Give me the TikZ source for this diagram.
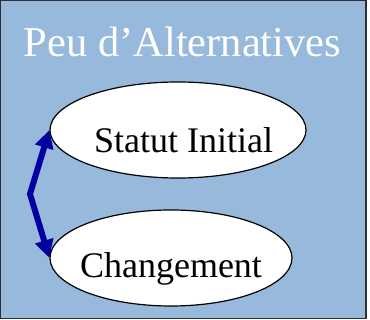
\documentclass[tikz,border=0pt]{standalone}
\usepackage{fontspec}
\setmainfont{Liberation Serif}
\usetikzlibrary{arrows.meta,shapes.geometric}
\definecolor{panelblue}{HTML}{96B9DC}
\definecolor{arrowblue}{HTML}{0000A0}
\definecolor{frame}{HTML}{2A2E38}
\tikzset{
  panel/.style={fill=panelblue,draw=frame,line width=1.2pt},
  oval/.style={ellipse,draw=black,fill=white,line width=1.2pt,inner sep=0pt},
  ovaltext/.style={anchor=base,inner sep=0pt,font=\fontsize{36}{40}\selectfont},
  titletext/.style={anchor=base,inner sep=0pt,text=white,font=\fontsize{42.5}{46}\selectfont},
  link/.style={draw=arrowblue,line width=6pt,line join=miter,
    {Triangle[length=18pt,width=18pt]}-{Triangle[length=18pt,width=18pt]}}
}
\begin{document}
\begin{tikzpicture}[x=1pt,y=-1pt]
  \useasboundingbox (0,0) rectangle (370,320);
  \fill[white] (0,0) rectangle (370,320);
  % background panel
  \path[panel] (0.6,0.6) rectangle (366,318.5);
  % title
  \node[titletext] (title) at (182.5,57) {Peu d’Alternatives};
  % the two states
  \node[oval,minimum width=256pt,minimum height=96pt] (init) at (178,130) {};
  \node[oval,minimum width=242pt,minimum height=96pt] (chg) at (171,258) {};
  \node[ovaltext] (initlbl) at (183.5,153) {Statut Initial};
  \node[ovaltext] (chglbl) at (171,278) {Changement};
  % two-way link on the left
  \coordinate (bend) at (30,194);
  \draw[link] (init.west) -- (bend) -- (chg.west);
\end{tikzpicture}
\end{document}
